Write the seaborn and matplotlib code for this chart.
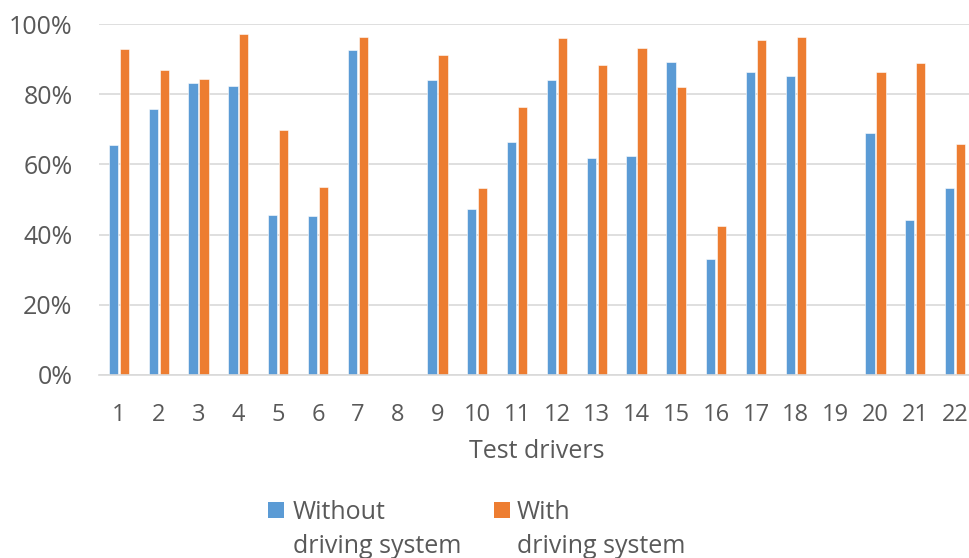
import numpy as np
import pandas as pd
import matplotlib
matplotlib.use("Agg")
import matplotlib.pyplot as plt
import seaborn as sns
from matplotlib.ticker import PercentFormatter
from matplotlib.patches import Rectangle

# Values (percent); drivers 8 and 19 have no data
drivers = [str(i) for i in range(1, 23)]
without_system = [65.4, 75.9, 83.2, 82.4, 45.7, 45.2, 92.6, np.nan, 84.0, 47.4, 66.4,
                  84.0, 61.7, 62.3, 89.3, 33.1, 86.3, 85.1, np.nan, 69.0, 44.1, 53.3]
with_system = [92.8, 86.8, 84.3, 97.2, 69.8, 53.6, 96.4, np.nan, 91.2, 53.3, 76.4,
               96.1, 88.2, 93.1, 82.1, 42.5, 95.4, 96.4, np.nan, 86.3, 88.8, 65.7]
series_names = ["Without", "With"]
colors = ["#5B9BD5", "#ED7D31"]

df = pd.DataFrame({
    "driver": drivers * 2,
    "condition": [series_names[0]] * len(drivers) + [series_names[1]] * len(drivers),
    "value": without_system + with_system,
})

sns.set_style("white")
plt.rcParams["font.family"] = ["Open Sans", "DejaVu Sans"]
text_color = "#595959"
W, H = 969, 558

fig = plt.figure(figsize=(W / 100, H / 100), dpi=100)
ax = fig.add_axes([99 / W, 1 - 375 / H, 876 / W, 351 / H])

sns.barplot(data=df, x="driver", y="value", hue="condition", order=drivers,
            hue_order=series_names, palette=colors, saturation=1, width=0.55, gap=0.15,
            errorbar=None, edgecolor="white", linewidth=0.4, legend=False, ax=ax)

ax.set_ylim(0, 100)
ax.set_xlim(-0.5, len(drivers) - 0.5)
ax.set_yticks(range(0, 101, 20))
ax.yaxis.set_major_formatter(PercentFormatter(decimals=0))
ax.grid(axis="y", color="#D9D9D9", linewidth=1.2)
ax.set_axisbelow(True)
for side in ["left", "right", "top"]:
    ax.spines[side].set_visible(False)
ax.spines["bottom"].set_color("#D9D9D9")
ax.spines["bottom"].set_linewidth(1.2)
ax.tick_params(axis="both", length=0, labelcolor=text_color)
ax.tick_params(axis="x", pad=20, labelsize=17)
ax.tick_params(axis="y", pad=19, labelsize=18)
ax.set_xlabel("Test drivers", fontsize=18, color=text_color, labelpad=9)
ax.set_ylabel("")

# legend: square marker beside the first line, second line below it
legend_items = [(268, 293, series_names[0]), (494, 517, series_names[1])]
for (box_x, text_x, name), color in zip(legend_items, colors):
    fig.patches.append(Rectangle((box_x / W, 1 - 518 / H), 16 / W, 16 / H,
                                 transform=fig.transFigure, facecolor=color, edgecolor="none"))
    fig.text(text_x / W, 1 - 519 / H, name, fontsize=18, color=text_color, va="baseline")
    fig.text(text_x / W, 1 - 553 / H, "driving system", fontsize=18, color=text_color,
             va="baseline")

fig.savefig("out.png", dpi=100)
